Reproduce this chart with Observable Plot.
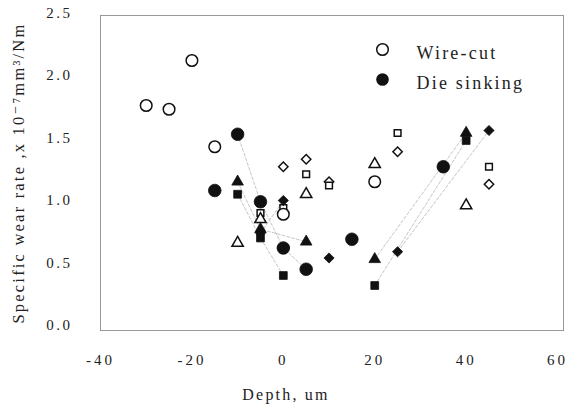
<!DOCTYPE html>
<html>
<head>
<meta charset="utf-8">
<script src="https://cdn.jsdelivr.net/npm/d3@7"></script>
<script src="https://cdn.jsdelivr.net/npm/@observablehq/plot@0.6"></script>
<style>
  html, body { margin: 0; padding: 0; background: #fff; }
</style>
</head>
<body>
<div id="chart"></div>
<script>
// ---- Data ----
// Wire-cut (open markers)
const wcCircleX = [-30, -25, -20, -15, 0, 20];
const wcCircleY = [1.76, 1.73, 2.12, 1.43, 0.89, 1.15];
const wcTriangleX = [-10, -5, 5, 20, 40];
const wcTriangleY = [0.66, 0.85, 1.05, 1.29, 0.96];
const wcSquareX = [-5, 0, 5, 10, 25, 45];
const wcSquareY = [0.90, 0.94, 1.21, 1.12, 1.54, 1.27];
const wcDiamondX = [0, 5, 10, 25, 45];
const wcDiamondY = [1.27, 1.33, 1.15, 1.39, 1.13];
// Die sinking (filled markers)
const dsCircleX = [-15, -10, -5, 0, 5, 15, 35];
const dsCircleY = [1.08, 1.53, 0.99, 0.62, 0.45, 0.69, 1.27];
const dsTriangleX = [-10, -5, 5, 20, 40];
const dsTriangleY = [1.15, 0.77, 0.67, 0.53, 1.54];
const dsSquareX = [-10, -5, 0, 20, 40];
const dsSquareY = [1.05, 0.70, 0.40, 0.32, 1.48];
const dsDiamondX = [-5, 0, 10, 25, 45];
const dsDiamondY = [0.74, 1.00, 0.54, 0.59, 1.56];

const xTicks = [-40, -20, 0, 20, 40, 60];
const yTicks = [0, 0.5, 1.0, 1.5, 2.0, 2.5];
const legendLabels = ["Wire-cut", "Die sinking"];
const xTitle = "Depth, um";
const yTitle = "Specific wear rate ,x 10\u207B\u2077mm\u00B3/Nm";

const pts = (xs, ys) => xs.map((x, i) => ({x, y: ys[i]}));
const seg = (xs, ys, a, b) => pts(xs.slice(a, b), ys.slice(a, b));

const serif = "'Liberation Serif', 'DejaVu Serif', serif";

const openDot = (xs, ys, symbol, r) => Plot.dot(pts(xs, ys), {x: "x", y: "y", symbol: () => symbol, r, fill: "white", stroke: "#111", strokeWidth: 1.5});
const filledDot = (xs, ys, symbol, r) => Plot.dot(pts(xs, ys), {x: "x", y: "y", symbol: () => symbol, r, fill: "#111", stroke: "#111", strokeWidth: 0.8});
const dashLine = (data) => Plot.line(data, {x: "x", y: "y", stroke: "#c6c6c6", strokeWidth: 1, strokeDasharray: "3,2"});

const chart = Plot.plot({
  width: 572,
  height: 414,
  marginLeft: 100,
  marginRight: 9,
  marginTop: 15,
  marginBottom: 84,
  style: {fontFamily: serif, background: "white", color: "#222"},
  x: {domain: [-40, 61.3]},
  y: {domain: [-0.04, 2.48]},
  marks: [
    Plot.frame({stroke: "#999", strokeWidth: 1}),
    // descending (left) and ascending (right) dashed guides of the die-sinking series
    dashLine(seg(dsCircleX, dsCircleY, 1, 5)),
    dashLine(seg(dsTriangleX, dsTriangleY, 0, 3)),
    dashLine(seg(dsTriangleX, dsTriangleY, 3, 5)),
    dashLine(seg(dsSquareX, dsSquareY, 0, 3)),
    dashLine(seg(dsSquareX, dsSquareY, 3, 5)),
    dashLine(seg(dsDiamondX, dsDiamondY, 0, 2)),
    dashLine(seg(dsDiamondX, dsDiamondY, 3, 5)),
    Plot.axisX({ticks: xTicks, tickSize: 0, tickPadding: 24, fontSize: 15, label: null, tickFormat: d => String(d)}),
    Plot.axisY({ticks: yTicks, tickSize: 0, tickPadding: 28, fontSize: 15, label: null, tickFormat: d3.format(".1f")}),
    Plot.text([xTitle], {text: d => d, frameAnchor: "bottom", textAnchor: "middle", dx: -46, dy: 69, fontSize: 16, fill: "#222"}),
    Plot.text([yTitle], {text: d => d, frameAnchor: "left", textAnchor: "middle", dx: -82, dy: 0, rotate: -90, fontSize: 16.5, fill: "#222"}),
    openDot(wcDiamondX, wcDiamondY, "diamond2", 4.2),
    openDot(wcSquareX, wcSquareY, "square", 3.8),
    openDot(wcTriangleX, wcTriangleY, "triangle", 4.2),
    openDot(wcCircleX, wcCircleY, "circle", 5.8),
    filledDot(dsCircleX, dsCircleY, "circle", 6.3),
    filledDot(dsTriangleX, dsTriangleY, "triangle", 4.3),
    filledDot(dsSquareX, dsSquareY, "square", 4.4),
    filledDot(dsDiamondX, dsDiamondY, "diamond2", 4.6),
    // legend
    Plot.dot([legendLabels[0]], {frameAnchor: "top-left", dx: 282, dy: 34, r: 5.8, fill: "white", stroke: "#111", strokeWidth: 1.5}),
    Plot.dot([legendLabels[1]], {frameAnchor: "top-left", dx: 282, dy: 64, r: 6.3, fill: "#111"}),
    Plot.text([legendLabels[0]], {text: d => d, frameAnchor: "top-left", dx: 316, dy: 31, textAnchor: "start", fontSize: 18, fill: "#222"}),
    Plot.text([legendLabels[1]], {text: d => d, frameAnchor: "top-left", dx: 316, dy: 61, textAnchor: "start", fontSize: 18, fill: "#222"})
  ]
});

const svg = d3.select(chart);
svg.selectAll("[aria-label='x-axis tick label']").style("letter-spacing", "3px");
svg.selectAll("[aria-label='y-axis tick label']").style("letter-spacing", "2.5px");
svg.selectAll("[aria-label='text'] text").style("letter-spacing", "2.2px");
document.getElementById("chart").appendChild(chart);
</script>
</body>
</html>
